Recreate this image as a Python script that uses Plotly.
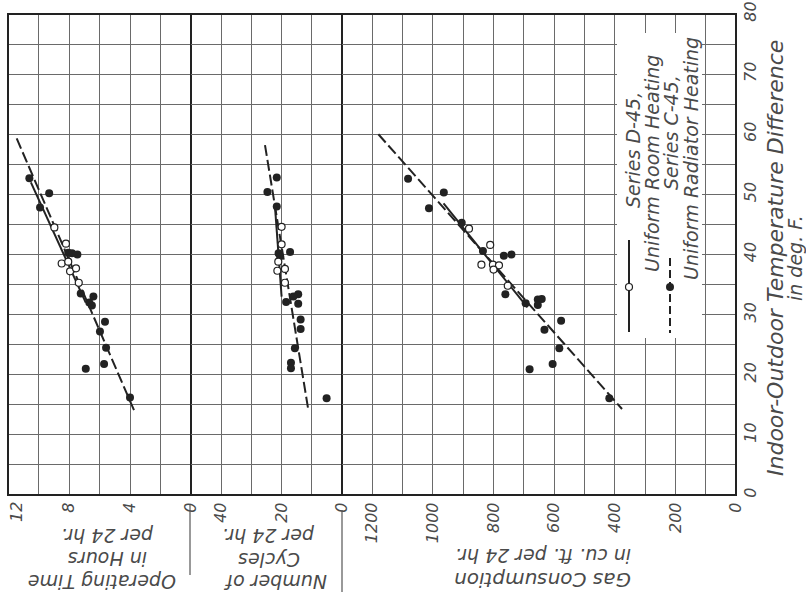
import plotly.graph_objects as go

# ---------------- data ----------------
# Panel 1: Operating time, hours per 24 hr
op_c45_hours = [10.6, 9.3, 9.9, 8.05, 7.45, 7.8, 7.23, 6.67, 6.4, 6.5, 5.64, 5.97, 5.57, 5.7, 6.9, 4.0]
op_c45_temp = [52.7, 50.2, 47.8, 40.3, 40.0, 40.2, 33.5, 32.0, 33.0, 31.5, 28.8, 27.2, 24.5, 21.8, 21.0, 16.2]
op_d45_hours = [8.96, 8.2, 8.48, 8.05, 7.93, 7.54, 7.36]
op_d45_temp = [44.5, 41.8, 38.5, 38.8, 37.2, 37.7, 35.3]
op_fit_c45_hours = [11.43, 3.67]
op_fit_c45_temp = [59.3, 13.7]
op_fit_d45_hours = [10.5, 6.9]
op_fit_d45_temp = [52.0, 32.0]

# Panel 2: Number of cycles per 24 hr
cy_c45 = [21.6, 24.7, 21.6, 21.0, 17.2, 20.5, 14.5, 16.1, 18.5, 14.5, 13.7, 13.7, 15.6, 16.9, 16.9, 5.1]
cy_c45_temp = [52.8, 50.4, 48.0, 40.2, 40.4, 39.7, 33.4, 33.0, 32.1, 31.8, 29.2, 27.6, 24.4, 22.0, 21.1, 16.1]
cy_d45 = [20.0, 20.0, 21.1, 21.4, 18.9, 18.9]
cy_d45_temp = [44.6, 41.7, 38.8, 37.3, 37.6, 35.3]
cy_fit_c45 = [25.5, 11.2]
cy_fit_c45_temp = [58.2, 14.3]
cy_fit_d45 = [22.2, 20.0]
cy_fit_d45_temp = [48.0, 33.0]

# Panel 3: Gas consumption, cu. ft. per 24 hr
gas_c45 = [1082, 964, 1013, 905, 835, 766, 741, 761, 694, 654, 641, 654, 577, 632, 583, 605, 681, 418]
gas_c45_temp = [52.6, 50.3, 47.7, 45.3, 40.6, 39.8, 40.0, 33.4, 31.9, 32.5, 32.6, 31.6, 29.0, 27.5, 24.4, 21.8, 20.9, 16.1]
gas_d45 = [881, 811, 840, 802, 782, 800, 753]
gas_d45_temp = [44.3, 41.6, 38.3, 38.3, 38.2, 37.5, 34.8]
gas_fit_c45 = [1180, 376]
gas_fit_c45_temp = [60.0, 14.3]
gas_fit_d45 = [965, 688]
gas_fit_d45_temp = [48.5, 31.2]

temp_ticks = [0, 10, 20, 30, 40, 50, 60, 70, 80]
hours_ticks = [8, 4, 0]
hours_edge_tick = "12"
cycles_ticks = [40, 20, 0]
gas_ticks = [1200, 1000, 800, 600, 400, 200, 0]

# ---------------- layout helpers ----------------
W, H = 806, 595
L, R, T, B = 8, 736, 14, 495


def px(x):
    return (x - L) / (R - L)


def py(y):
    return (B - y) / (B - T)


INK = "#222222"
TXT = "#4a4a4a"
GRID = "#6a6a6a"
FONT = "DejaVu Sans"
DASH = "11px,4px"

fig = go.Figure()


def add_panel(xa, ya, fit_c_x, fit_c_y, fit_d_x, fit_d_y, c_x, c_y, d_x, d_y):
    fig.add_trace(go.Scatter(x=fit_c_x, y=fit_c_y, xaxis=xa, yaxis=ya, mode="lines",
                             line=dict(color=INK, width=2, dash=DASH), showlegend=False,
                             hoverinfo="skip"))
    fig.add_trace(go.Scatter(x=fit_d_x, y=fit_d_y, xaxis=xa, yaxis=ya, mode="lines",
                             line=dict(color=INK, width=2), showlegend=False, hoverinfo="skip"))
    fig.add_trace(go.Scatter(x=c_x, y=c_y, xaxis=xa, yaxis=ya, mode="markers",
                             marker=dict(size=8, color=INK, line=dict(width=0)),
                             showlegend=False))
    fig.add_trace(go.Scatter(x=d_x, y=d_y, xaxis=xa, yaxis=ya, mode="markers",
                             marker=dict(size=7, color="white", line=dict(color=INK, width=1.2)),
                             showlegend=False))


add_panel("x", "y", op_fit_c45_hours, op_fit_c45_temp, op_fit_d45_hours, op_fit_d45_temp,
          op_c45_hours, op_c45_temp, op_d45_hours, op_d45_temp)
add_panel("x2", "y2", cy_fit_c45, cy_fit_c45_temp, cy_fit_d45, cy_fit_d45_temp,
          cy_c45, cy_c45_temp, cy_d45, cy_d45_temp)
add_panel("x3", "y3", gas_fit_c45, gas_fit_c45_temp, gas_fit_d45, gas_fit_d45_temp,
          gas_c45, gas_c45_temp, gas_d45, gas_d45_temp)

TICK_SIZE = 16
tickfont = dict(family=FONT, size=TICK_SIZE, color=TXT, style="italic")
common = dict(showline=True, mirror=True, linecolor=INK, linewidth=1.1,
              showgrid=True, gridcolor=GRID, gridwidth=1, zeroline=False,
              ticks="", fixedrange=True, tickfont=tickfont, ticklabeloverflow="allow",
              automargin=False)

d1, d2 = px(191), px(342)

fig.update_layout(
    width=W, height=H,
    margin=dict(l=L, r=W - R, t=T, b=H - B, pad=0, autoexpand=False),
    paper_bgcolor="white", plot_bgcolor="white",
    showlegend=False,
    xaxis=dict(domain=[0, d1], range=[12, 0], tickmode="array", tickvals=hours_ticks,
               tickangle=-90, anchor="y",
               minor=dict(tick0=0, dtick=2, showgrid=True, gridcolor=GRID, gridwidth=1),
               **common),
    xaxis2=dict(domain=[d1, d2], range=[50, 0], tickmode="array", tickvals=cycles_ticks,
                tickangle=-90, anchor="y2",
                minor=dict(tick0=0, dtick=10, showgrid=True, gridcolor=GRID, gridwidth=1),
                **common),
    xaxis3=dict(domain=[d2, 1], range=[1300, 0], tickmode="array", tickvals=gas_ticks,
                tickangle=-90, anchor="y3",
                minor=dict(tick0=0, dtick=100, showgrid=True, gridcolor=GRID, gridwidth=1),
                **common),
    yaxis=dict(domain=[0, 1], range=[0, 80], anchor="x", showticklabels=False,
               tickmode="array", tickvals=temp_ticks,
               minor=dict(tick0=0, dtick=5, showgrid=True, gridcolor=GRID, gridwidth=1),
               **common),
    yaxis2=dict(domain=[0, 1], range=[0, 80], anchor="x2", showticklabels=False,
                tickmode="array", tickvals=temp_ticks,
                minor=dict(tick0=0, dtick=5, showgrid=True, gridcolor=GRID, gridwidth=1),
                **common),
    yaxis3=dict(domain=[0, 1], range=[0, 80], anchor="x3", side="right",
                tickmode="array", tickvals=temp_ticks, tickangle=-90,
                minor=dict(tick0=0, dtick=5, showgrid=True, gridcolor=GRID, gridwidth=1),
                **common),
)

# ---------------- annotations (text) ----------------
ann = []


def text(s, x, y, angle, size):
    ann.append(dict(text=s, x=px(x), y=py(y), xref="paper", yref="paper",
                    showarrow=False, textangle=angle, xanchor="center", yanchor="middle",
                    font=dict(family=FONT, size=size, color=TXT, style="italic")))


# edge tick label of the hours axis (sits just inside the left edge, as in the original)
text(hours_edge_tick, 16, 512, -90, TICK_SIZE)

# right axis title
text("Indoor-Outdoor Temperature Difference", 775, 258, -90, 22)
text("in deg. F.", 795, 258, -90, 19)

# bottom titles (upside down)
text("per 24 hr.", 107, 536, 180, 19)
text("in Hours", 107, 559, 180, 19)
text("Operating Time", 102, 582, 180, 19)
text("per 24 hr.", 269, 536, 180, 19)
text("Cycles", 269, 560, 180, 19)
text("Number of", 275, 582, 180, 19)
text("in cu. ft. per 24 hr.", 543, 556, 180, 19)
text("Gas Consumption", 543, 580, 180, 20)

# legend text
text("Series D-45,", 633, 150, -90, 19)
text("Uniform Room Heating", 652, 164, -90, 19)
text("Series C-45,", 671, 133, -90, 19)
text("Uniform Radiator Heating", 691, 159, -90, 19)

fig.update_layout(annotations=ann)

# ---------------- shapes (legend box, keys, separators) ----------------
shapes = []


def pline(x0, y0, x1, y1, width=1, dash=None, color=INK):
    ln = dict(color=color, width=width)
    if dash:
        ln["dash"] = dash
    shapes.append(dict(type="line", xref="paper", yref="paper",
                       x0=px(x0), y0=py(y0), x1=px(x1), y1=py(y1), line=ln, layer="above"))


def pcircle(cx, cy, r, fill, lw):
    shapes.append(dict(type="circle", xref="paper", yref="paper",
                       x0=px(cx - r), x1=px(cx + r), y0=py(cy + r), y1=py(cy - r),
                       fillcolor=fill, line=dict(color=INK, width=lw), layer="above"))


shapes.append(dict(type="rect", xref="paper", yref="paper",
                   x0=px(617), x1=px(702), y0=py(338), y1=py(33),
                   fillcolor="white", line=dict(width=0), layer="above"))
# outer frame
shapes.append(dict(type="rect", xref="paper", yref="paper", x0=0, x1=1, y0=0, y1=1,
                   line=dict(color=INK, width=2), fillcolor="rgba(0,0,0,0)", layer="above"))
pline(629, 240, 629, 332, width=2)
pcircle(629, 287, 3.5, "white", 1.2)
pline(670, 258, 670, 333, width=2, dash="8px,4px")
pcircle(670, 287, 4, INK, 0)

# separators between bottom titles
pline(190, 505, 190, 575, width=1.2, color="#555555")
pline(342, 510, 342, 592, width=1.2, color="#555555")

fig.update_layout(shapes=shapes)

fig.write_html("out.html")
